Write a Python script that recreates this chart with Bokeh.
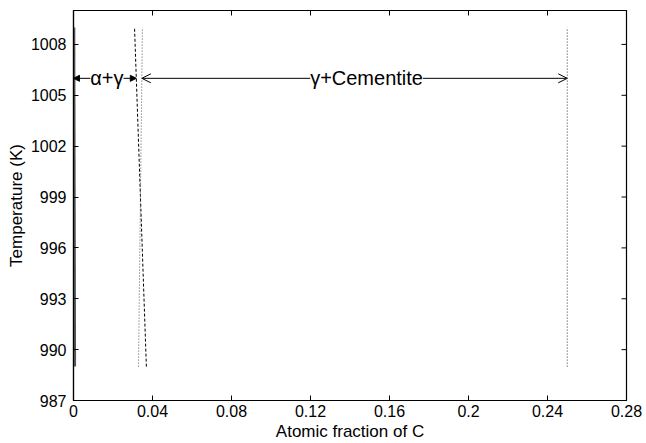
import numpy as np
from bokeh.plotting import figure
from bokeh.models import (FixedTicker, Arrow, NormalHead, OpenHead, Label, Range1d)
from bokeh.embed import file_html
from bokeh.resources import INLINE

# ---- data ----
T_limits = [989.0, 1009.0]                 # temperatures spanned by the boundary lines
alpha_x = [0.0008, 0.0004]                 # alpha / alpha+gamma boundary
gamma_alpha_x = [0.0369, 0.0309]           # gamma / alpha+gamma boundary (dashed)
gamma_cem_x = [0.0329, 0.0349]             # gamma / gamma+cementite boundary (dotted)
cementite_x = [0.25, 0.25]                 # cementite composition (dotted)
arrow_T = 1006.0
region_labels = ["α+γ", "γ+Cementite"]

x_ticks = [0, 0.04, 0.08, 0.12, 0.16, 0.2, 0.24, 0.28]
x_tick_labels = ["0", "0.04", "0.08", "0.12", "0.16", "0.2", "0.24", "0.28"]
y_ticks = [987, 990, 993, 996, 999, 1002, 1005, 1008]
x_lim = [0, 0.28]
y_lim = [987, 1010]

FONT = "Liberation Sans"

p = figure(width=646, height=443, output_backend="svg", toolbar_location=None,
           x_range=Range1d(*x_lim), y_range=Range1d(*y_lim),
           min_border_left=73, min_border_right=20, min_border_top=10, min_border_bottom=38)
p.xgrid.visible = False
p.ygrid.visible = False
p.outline_line_color = "black"
p.outline_line_width = 1.2
p.background_fill_color = "white"
p.border_fill_color = "white"

def style_axis(ax):
    ax.axis_line_color = "black"
    ax.axis_line_width = 1.2
    ax.major_tick_in = 5
    ax.major_tick_out = 0
    ax.minor_tick_in = 0
    ax.minor_tick_out = 0
    ax.major_tick_line_color = "black"
    ax.major_label_text_font = FONT
    ax.major_label_text_font_size = "16px"
    ax.major_label_text_color = "black"
    ax.axis_label_text_font = FONT
    ax.axis_label_text_font_size = "17px"
    ax.axis_label_text_font_style = "normal"
    ax.axis_label_text_color = "black"

xa = p.xaxis[0]
xa.ticker = FixedTicker(ticks=x_ticks)
xa.major_label_overrides = {t: s for t, s in zip(x_ticks, x_tick_labels)}
xa.axis_label = "Atomic fraction of C"
style_axis(xa)
xa.major_label_standoff = 4
xa.axis_label_standoff = 2

ya = p.yaxis[0]
ya.ticker = FixedTicker(ticks=y_ticks)
ya.axis_label = "Temperature (K)"
style_axis(ya)
ya.major_label_standoff = 7
ya.axis_label_standoff = 2

# mirrored inward tick marks on the top and right frame edges (clipped dash markers)
p.scatter(x_ticks, [y_lim[1]] * len(x_ticks), marker="dash", size=10, angle=np.pi / 2,
          line_color="black", line_width=1)
p.scatter([x_lim[1]] * len(y_ticks), y_ticks, marker="dash", size=10,
          line_color="black", line_width=1)

# ---- boundary lines ----
p.line(alpha_x, T_limits, line_color="#555555", line_width=2)
p.line(gamma_alpha_x, T_limits, line_color="black", line_width=1, line_dash="3 2")
p.line(gamma_cem_x, T_limits, line_color="#555555", line_width=1, line_dash="1 2")
p.line(cementite_x, T_limits, line_color="#333333", line_width=1, line_dash="1 2")

# ---- arrows spanning the two-phase regions ----
xga_at = float(np.interp(arrow_T, T_limits, gamma_alpha_x))
xgc_at = float(np.interp(arrow_T, T_limits, gamma_cem_x))
xc_at = float(np.interp(arrow_T, T_limits, cementite_x))

p.add_layout(Arrow(x_start=x_lim[0], y_start=arrow_T, x_end=xga_at, y_end=arrow_T,
                   start=NormalHead(size=6, fill_color="black", line_color="black"),
                   end=NormalHead(size=6, fill_color="black", line_color="black"),
                   line_color="black", line_width=1))
p.add_layout(Arrow(x_start=xgc_at, y_start=arrow_T, x_end=xc_at, y_end=arrow_T,
                   start=OpenHead(size=9, line_color="black", line_width=1),
                   end=OpenHead(size=9, line_color="black", line_width=1),
                   line_color="black", line_width=1))

p.add_layout(Label(x=(x_lim[0] + xga_at) / 2, y=arrow_T, text=region_labels[0],
                   x_offset=2, text_align="center", text_baseline="middle",
                   text_font=FONT, text_font_size="20px", text_color="black",
                   background_fill_color="white"))
p.add_layout(Label(x=(xgc_at + xc_at) / 2, y=arrow_T, text=region_labels[1],
                   x_offset=12, text_align="center", text_baseline="middle",
                   text_font=FONT, text_font_size="20px", text_color="black",
                   background_fill_color="white"))

open("out.html", "w").write(file_html(p, INLINE))
